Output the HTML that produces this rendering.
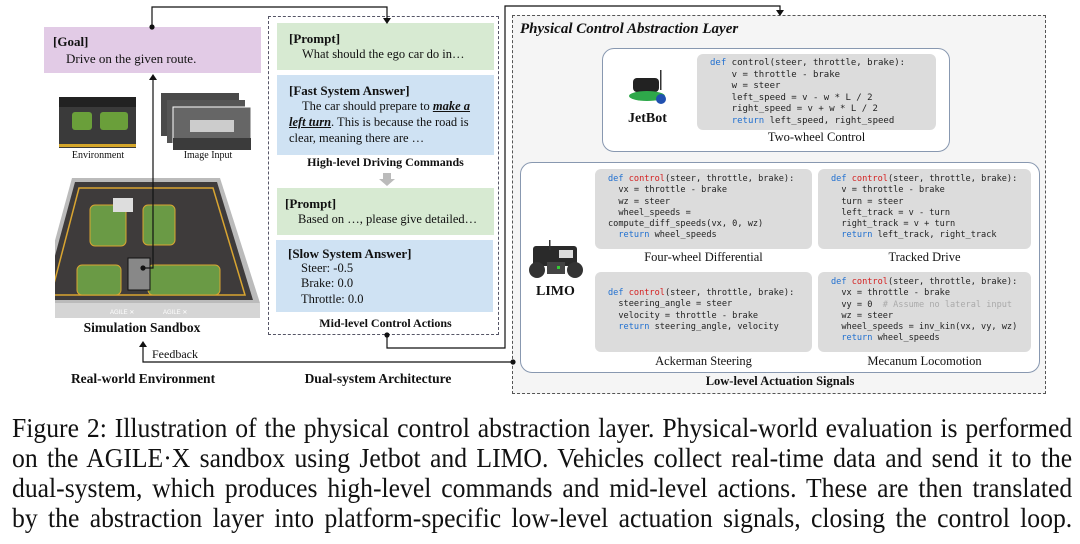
<!DOCTYPE html>
<html><head><meta charset="utf-8"><style>
body{margin:0;width:1080px;height:544px;background:#fff;position:relative;overflow:hidden;font-family:"Liberation Serif",serif;color:#111}
.a{position:absolute}
.box{position:absolute;box-sizing:border-box}
.t{position:absolute;font-size:13px;line-height:17px;white-space:nowrap}
.b{font-weight:bold}
.code{position:absolute;font-family:"DejaVu Sans Mono","Liberation Mono",monospace;font-size:8.6px;line-height:11.3px;white-space:pre;color:#222;background:#dcdcdc;border-radius:6px;box-sizing:border-box}
.k{color:#1f6fd0}.r{color:#d42020}.c{color:#aaa}
.cap{position:absolute;font-size:13.5px;white-space:nowrap;text-align:center}
.ln{position:absolute;left:12px;width:1116px;font-size:27px;line-height:30px;height:30px;text-align:justify;text-align-last:justify;transform:scaleX(0.95);transform-origin:0 0;white-space:nowrap}
</style></head><body>

<!-- Goal -->
<div class="box" style="left:44px;top:27px;width:217px;height:46px;background:#e2cbe6"></div>
<div class="t b" style="left:53px;top:33px">[Goal]</div>
<div class="t" style="left:66px;top:50px">Drive on the given route.</div>

<!-- environment images -->
<svg class="a" style="left:55px;top:88px" width="205" height="232">
<rect x="4" y="9" width="77" height="51" fill="#3a3a3a"/>
<rect x="4" y="9" width="77" height="10" fill="#222"/>
<rect x="17" y="24" width="20" height="18" rx="3" fill="#6a9f3a"/>
<rect x="45" y="24" width="28" height="18" rx="3" fill="#6a9f3a"/>
<rect x="4" y="56" width="77" height="3" fill="#d4a62a"/>
<rect x="106" y="5" width="78" height="43" fill="#4a4a4a"/>
<rect x="112" y="12" width="78" height="43" fill="#555"/>
<rect x="118" y="19" width="78" height="43" fill="#666" stroke="#fff" stroke-width="1"/>
<rect x="135" y="32" width="44" height="12" fill="#ccc"/>
<rect x="118" y="50" width="78" height="12" fill="#3b3b3b"/>
<polygon points="17,90 165,90 205,215 -17,215" fill="#bbb"/>
<polygon points="20,94 162,94 198,212 -12,212" fill="#3e3b3b"/>
<polygon points="-17,215 205,215 205,230 -17,230" fill="#d5d5d5"/>
<polygon points="24,100 158,100 190,207 -4,207" fill="none" stroke="#d9a531" stroke-width="1.5"/>
<rect x="35" y="117" width="36" height="41" rx="5" fill="#6a9a45" stroke="#d9a531"/>
<rect x="88" y="117" width="32" height="40" rx="5" fill="#6a9a45" stroke="#d9a531"/>
<rect x="22" y="177" width="44" height="30" rx="5" fill="#6a9a45" stroke="#d9a531"/>
<rect x="93" y="177" width="72" height="30" rx="5" fill="#6a9a45" stroke="#d9a531"/>
<rect x="73" y="170" width="22" height="32" fill="#888" stroke="#111"/>
<rect x="58" y="110" width="20" height="14" fill="#ddd"/>
<text x="55" y="226" font-size="6" fill="#fff" font-family="Liberation Sans">AGILE ✕</text>
<text x="108" y="226" font-size="6" fill="#fff" font-family="Liberation Sans">AGILE ✕</text>
</svg>
<div class="cap" style="left:58px;top:150px;width:80px;font-size:10px">Environment</div>
<div class="cap" style="left:168px;top:150px;width:80px;font-size:10px">Image Input</div>
<div class="cap b" style="left:72px;top:320px;width:140px">Simulation Sandbox</div>
<div class="t" style="left:152px;top:346px;font-size:12px">Feedback</div>
<div class="cap b" style="left:43px;top:371px;width:200px">Real-world Environment</div>
<div class="cap b" style="left:278px;top:371px;width:200px">Dual-system Architecture</div>

<!-- middle -->
<div class="box" style="left:268px;top:16px;width:231px;height:319px;border:1px dashed #556"></div>
<div class="box" style="left:277px;top:23px;width:217px;height:47px;background:#d7ead2"></div>
<div class="t b" style="left:289px;top:30px">[Prompt]</div>
<div class="t" style="left:302px;top:46px;font-size:12.5px">What should the ego car do in…</div>
<div class="box" style="left:277px;top:75px;width:217px;height:80px;background:#cfe2f3"></div>
<div class="t b" style="left:289px;top:82px">[Fast System Answer]</div>
<div class="t" style="left:289px;top:98px;font-size:12.5px;line-height:16px;white-space:normal;width:200px;text-indent:13px">The car should prepare to <b><i><u>make a left turn</u></i></b>. This is because the road is clear, meaning there are …</div>
<div class="cap b" style="left:277px;top:155px;width:217px;font-size:12px">High-level Driving Commands</div>
<svg class="a" style="left:378px;top:173px" width="18" height="14"><polygon points="5,0 13,0 13,6 17,6 9,13 1,6 5,6" fill="#bbb"/></svg>
<div class="box" style="left:277px;top:188px;width:217px;height:47px;background:#d7ead2"></div>
<div class="t b" style="left:285px;top:195px">[Prompt]</div>
<div class="t" style="left:298px;top:211px;font-size:12.5px">Based on …, please give detailed…</div>
<div class="box" style="left:276px;top:240px;width:217px;height:72px;background:#cfe2f3"></div>
<div class="t b" style="left:288px;top:245px">[Slow System Answer]</div>
<div class="t" style="left:301px;top:261px;font-size:12.5px;line-height:15.3px">Steer: -0.5<br>Brake: 0.0<br>Throttle: 0.0</div>
<div class="cap b" style="left:277px;top:316px;width:217px;font-size:12px">Mid-level Control Actions</div>

<!-- right panel -->
<div class="box" style="left:512px;top:15px;width:534px;height:379px;border:1px dashed #555;background:#f5f5f5"></div>
<div class="t b" style="left:520px;top:21px;font-size:15px;font-style:italic">Physical Control Abstraction Layer</div>
<div class="box" style="left:602px;top:48px;width:348px;height:104px;background:#fff;border:1px solid #8898b0;border-radius:12px"></div>
<svg class="a" style="left:627px;top:70px" width="44" height="40"><rect x="6" y="8" width="26" height="14" rx="4" fill="#222"/><ellipse cx="20" cy="26" rx="18" ry="5" fill="#2ea84a"/><circle cx="34" cy="29" r="5" fill="#2050b0"/><rect x="33" y="0" width="1.5" height="20" fill="#333"/></svg>
<div class="t b" style="left:628px;top:110px;font-size:14px">JetBot</div>
<div class="code" style="left:697px;top:54px;width:239px;height:76px;padding:4px 0 0 13px;font-size:9px;line-height:11.6px"><span class="k">def</span> control(steer, throttle, brake):
    v = throttle - brake
    w = steer
    left_speed = v - w * L / 2
    right_speed = v + w * L / 2
    <span class="k">return</span> left_speed, right_speed</div>
<div class="cap" style="left:697px;top:130px;width:239px;font-size:12.5px">Two-wheel Control</div>

<div class="box" style="left:520px;top:162px;width:520px;height:211px;background:#fff;border:1px solid #8898b0;border-radius:12px"></div>
<svg class="a" style="left:527px;top:240px" width="60" height="42"><rect x="6" y="6" width="44" height="20" rx="3" fill="#2a2a2a"/><rect x="32" y="10" width="14" height="8" fill="#ddd"/><circle cx="10" cy="30" r="8" fill="#333"/><circle cx="48" cy="30" r="8" fill="#333"/><rect x="20" y="22" width="18" height="12" fill="#444"/><rect x="30" y="26" width="3" height="3" fill="#3c3"/><rect x="22" y="0" width="1.5" height="10" fill="#333"/></svg>
<div class="t b" style="left:536px;top:283px;font-size:14px">LIMO</div>

<div class="code" style="left:595px;top:169px;width:217px;height:80px;padding:5px 0 0 13px"><span class="k">def</span> <span class="r">control</span>(steer, throttle, brake):
  vx = throttle - brake
  wz = steer
  wheel_speeds =
compute_diff_speeds(vx, 0, wz)
  <span class="k">return</span> wheel_speeds</div>
<div class="cap" style="left:595px;top:250px;width:217px;font-size:12.5px">Four-wheel Differential</div>
<div class="code" style="left:818px;top:169px;width:213px;height:80px;padding:5px 0 0 13px"><span class="k">def</span> <span class="r">control</span>(steer, throttle, brake):
  v = throttle - brake
  turn = steer
  left_track = v - turn
  right_track = v + turn
  <span class="k">return</span> left_track, right_track</div>
<div class="cap" style="left:818px;top:250px;width:213px;font-size:12.5px">Tracked Drive</div>
<div class="code" style="left:595px;top:272px;width:217px;height:80px;padding:16px 0 0 13px"><span class="k">def</span> <span class="r">control</span>(steer, throttle, brake):
  steering_angle = steer
  velocity = throttle - brake
  <span class="k">return</span> steering_angle, velocity</div>
<div class="cap" style="left:595px;top:354px;width:217px;font-size:12.5px">Ackerman Steering</div>
<div class="code" style="left:818px;top:272px;width:213px;height:80px;padding:5px 0 0 13px"><span class="k">def</span> <span class="r">control</span>(steer, throttle, brake):
  vx = throttle - brake
  vy = 0  <span class="c"># Assume no lateral input</span>
  wz = steer
  wheel_speeds = inv_kin(vx, vy, wz)
  <span class="k">return</span> wheel_speeds</div>
<div class="cap" style="left:818px;top:354px;width:213px;font-size:12.5px">Mecanum Locomotion</div>
<div class="cap b" style="left:680px;top:374px;width:200px;font-size:12.5px">Low-level Actuation Signals</div>

<!-- connectors on top -->
<svg class="a" style="left:0;top:0" width="1080" height="400">
<g stroke="#111" stroke-width="1.2" fill="none">
<polyline points="152,27 152,7 387,7 387,19"/>
<polyline points="387,335 387,348 505,348 505,6 780,6 780,12"/>
<polyline points="513,362 143,362 143,346"/>
<polyline points="143,268 153,268 153,78"/>
</g>
<g fill="#111">
<circle cx="152" cy="27" r="2.6"/><circle cx="387" cy="335" r="2.6"/><circle cx="513" cy="362" r="2.6"/><circle cx="143" cy="268" r="2.6"/>
<polygon points="383,18 391,18 387,24"/><polygon points="776,10 784,10 780,16"/>
<polygon points="139,347 147,347 143,341"/><polygon points="149,80 157,80 153,74"/>
</g>
</svg>

<!-- caption -->
<div class="ln" style="top:413px">Figure 2: Illustration of the physical control abstraction layer. Physical-world evaluation is performed</div>
<div class="ln" style="top:443px">on the AGILE·X sandbox using Jetbot and LIMO. Vehicles collect real-time data and send it to the</div>
<div class="ln" style="top:473px">dual-system, which produces high-level commands and mid-level actions. These are then translated</div>
<div class="ln" style="top:503px">by the abstraction layer into platform-specific low-level actuation signals, closing the control loop.</div>
</body></html>
